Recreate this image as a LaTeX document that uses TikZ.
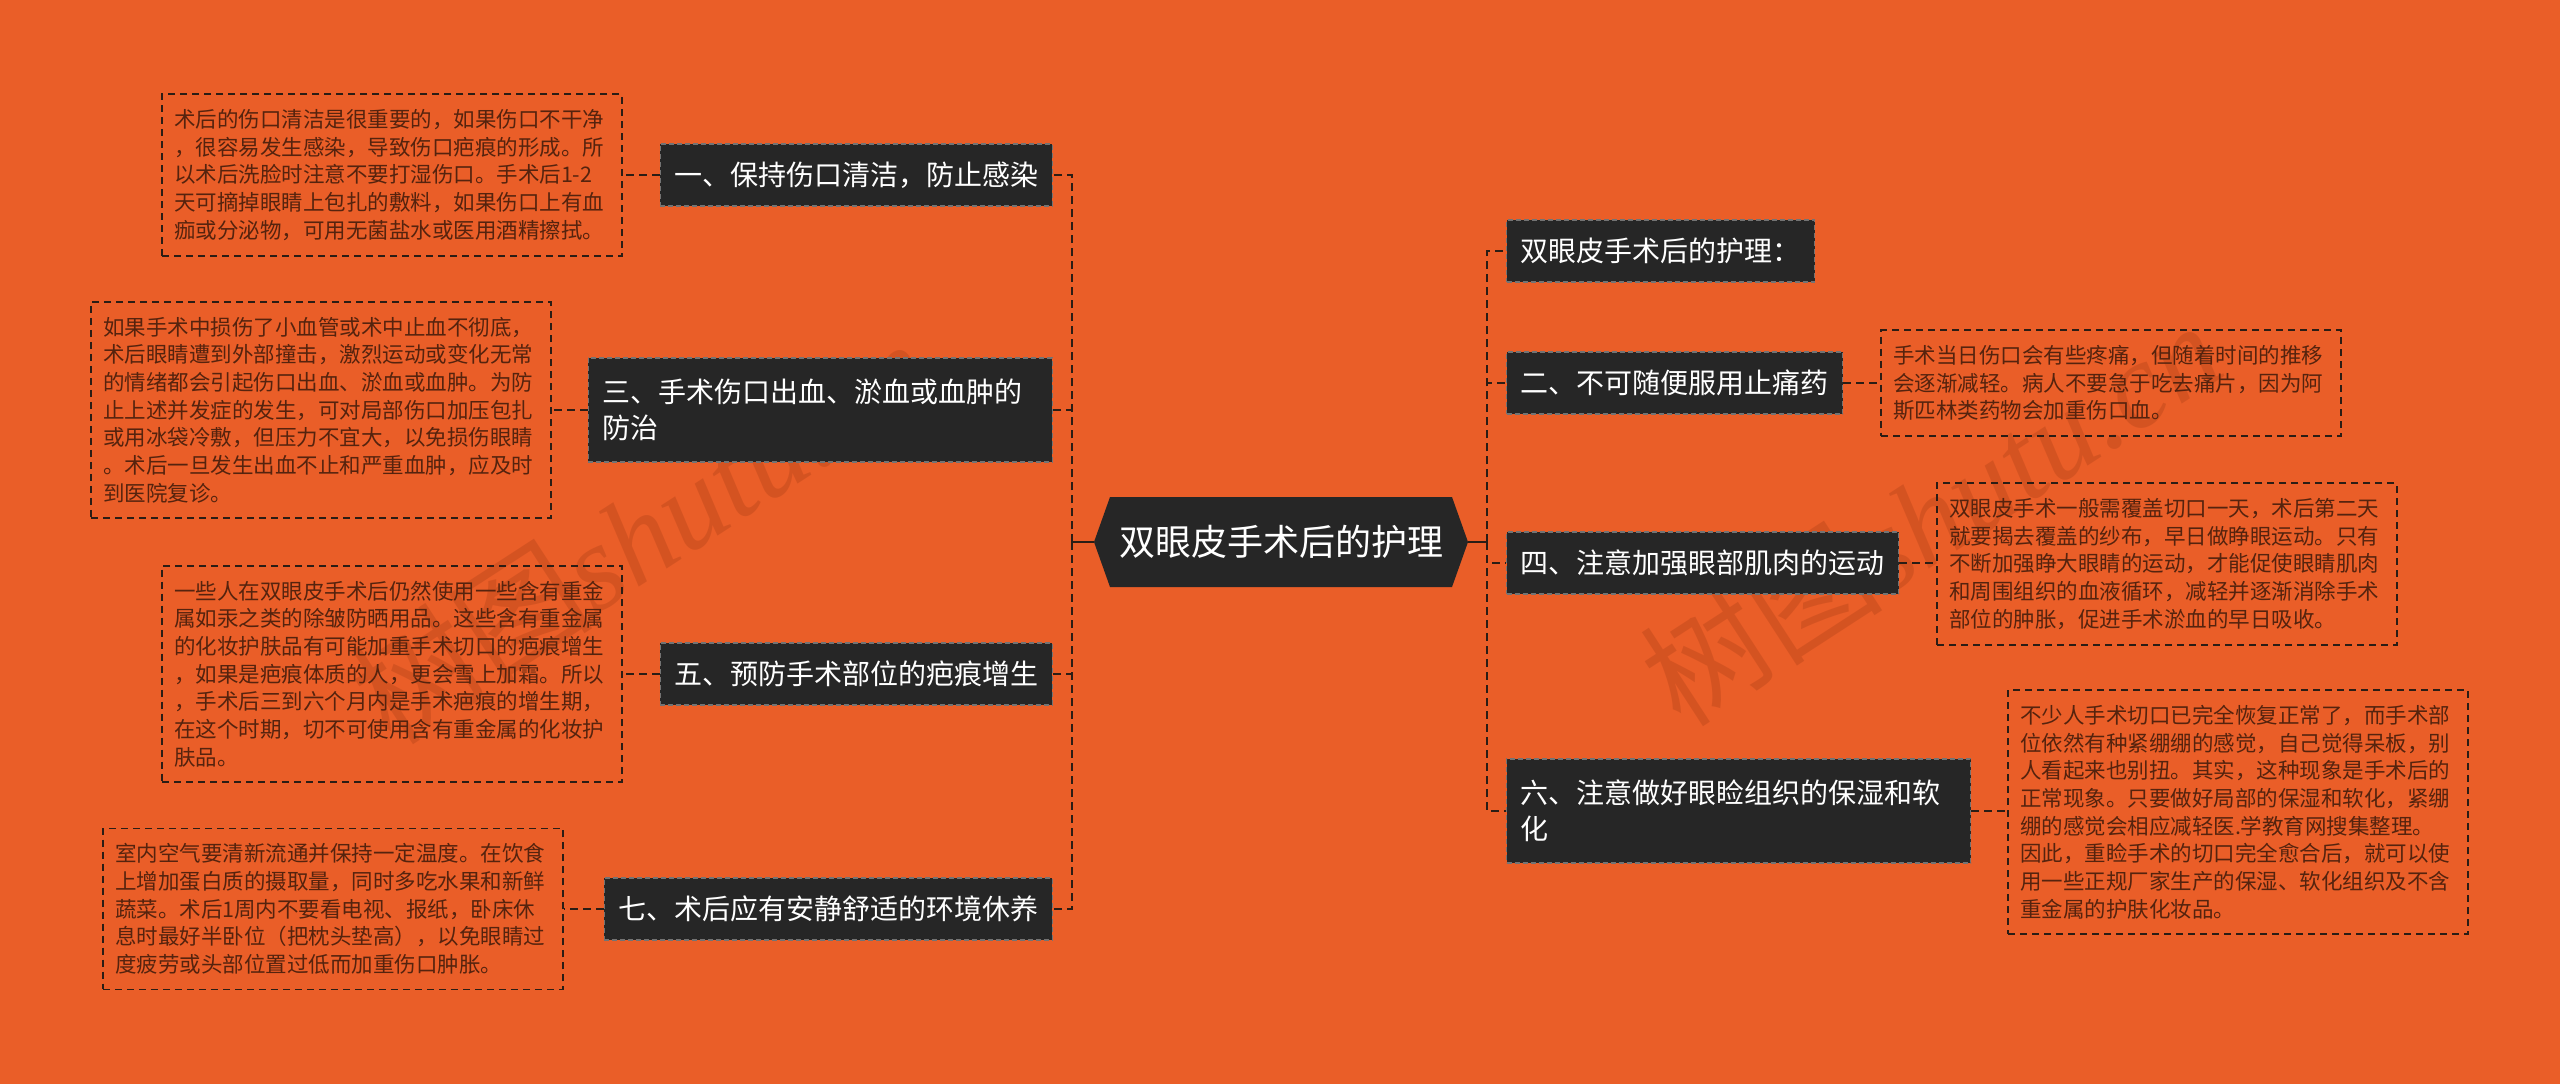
\documentclass[tikz,border=0pt]{standalone}
\usepackage{fontspec}
\setmainfont{Noto Sans CJK SC}
\newfontfamily\wmlatin{Liberation Serif}
\usetikzlibrary{calc}
\definecolor{bgorange}{HTML}{EA5E28}
\definecolor{boxdark}{HTML}{262626}
\definecolor{linedark}{HTML}{2B1D15}
\definecolor{bodytext}{HTML}{55230E}
\definecolor{wmcol}{HTML}{8A2E0C}
\tikzset{
  topic/.style={fill=boxdark, draw=black!55, dashed, line width=1.2pt,
    dash pattern=on 5pt off 3pt, text=white,
    font=\fontsize{28}{36}\selectfont, inner xsep=14pt, inner ysep=4pt,
    align=left, minimum height=62pt},
  topictwo/.style={topic, text width=436pt, minimum height=104pt},
  detail/.style={draw=linedark, line width=1.8pt, dash pattern=on 7pt off 5pt,
    text=bodytext, font=\fontsize{21.5}{27.7}\selectfont,
    text width=436pt, align=left, inner xsep=12pt, inner ysep=15pt},
  conn/.style={draw=linedark, line width=2.4pt, dash pattern=on 8pt off 5pt},
  stub/.style={draw=linedark, line width=2.6pt},
  wm/.style={rotate=33, text=wmcol, text opacity=0.22, font=\fontsize{122}{122}\selectfont}
}
\begin{document}
\begin{tikzpicture}[x=1pt,y=-1pt]
\useasboundingbox (0,0) rectangle (2560,1084);
\fill[bgorange] (0,0) rectangle (2560,1084);

% watermarks
\node[wm] (wm1) at (640,531) {树图{\wmlatin\itshape shutu.cn}};
\node[wm] (wm2) at (1930,513) {树图{\wmlatin\itshape shutu.cn}};

% root
\coordinate (rootW) at (1094,542);
\coordinate (rootE) at (1468,542);
\fill[boxdark] (1094,542) -- (1110,497) -- (1452,497) -- (1468,542) -- (1452,587) -- (1110,587) -- cycle;
\node[text=white, font=\fontsize{36}{40}\selectfont] (root) at (1281,542) {双眼皮手术后的护理};

% left topics
\node[topic, anchor=east] (t1) at (1053,175) {一、保持伤口清洁，防止感染};
\node[topictwo, anchor=east] (t3) at (1053,410) {三、手术伤口出血、淤血或血肿的\\防治};
\node[topic, anchor=east] (t5) at (1053,674) {五、预防手术部位的疤痕增生};
\node[topic, anchor=east] (t7) at (1053,909) {七、术后应有安静舒适的环境休养};

% right topics
\node[topic, anchor=west] (t0) at (1506,251) {双眼皮手术后的护理：};
\node[topic, anchor=west] (t2) at (1506,383) {二、不可随便服用止痛药};
\node[topic, anchor=west] (t4) at (1506,563) {四、注意加强眼部肌肉的运动};
\node[topictwo, anchor=west] (t6) at (1506,811) {六、注意做好眼睑组织的保湿和软\\化};

% details
\node[detail] (d1) at (392,175) {术后的伤口清洁是很重要的，如果伤口不干净\\，很容易发生感染，导致伤口疤痕的形成。所\\以术后洗脸时注意不要打湿伤口。手术后1-2\\天可摘掉眼睛上包扎的敷料，如果伤口上有血\\痂或分泌物，可用无菌盐水或医用酒精擦拭。};
\node[detail] (d3) at (321,410) {如果手术中损伤了小血管或术中止血不彻底，\\术后眼睛遭到外部撞击，激烈运动或变化无常\\的情绪都会引起伤口出血、淤血或血肿。为防\\止上述并发症的发生，可对局部伤口加压包扎\\或用冰袋冷敷，但压力不宜大，以免损伤眼睛\\。术后一旦发生出血不止和严重血肿，应及时\\到医院复诊。};
\node[detail] (d5) at (392,674) {一些人在双眼皮手术后仍然使用一些含有重金\\属如汞之类的除皱防晒用品。这些含有重金属\\的化妆护肤品有可能加重手术切口的疤痕增生\\，如果是疤痕体质的人，更会雪上加霜。所以\\，手术后三到六个月内是手术疤痕的增生期，\\在这个时期，切不可使用含有重金属的化妆护\\肤品。};
\node[detail] (d7) at (333,909) {室内空气要清新流通并保持一定温度。在饮食\\上增加蛋白质的摄取量，同时多吃水果和新鲜\\蔬菜。术后1周内不要看电视、报纸，卧床休\\息时最好半卧位（把枕头垫高），以免眼睛过\\度疲劳或头部位置过低而加重伤口肿胀。};
\node[detail] (d2) at (2111,383) {手术当日伤口会有些疼痛，但随着时间的推移\\会逐渐减轻。病人不要急于吃去痛片，因为阿\\斯匹林类药物会加重伤口血。};
\node[detail] (d4) at (2167,564) {双眼皮手术一般需覆盖切口一天，术后第二天\\就要揭去覆盖的纱布，早日做睁眼运动。只有\\不断加强睁大眼睛的运动，才能促使眼睛肌肉\\和周围组织的血液循环，减轻并逐渐消除手术\\部位的肿胀，促进手术淤血的早日吸收。};
\node[detail] (d6) at (2238,812) {不少人手术切口已完全恢复正常了，而手术部\\位依然有种紧绷绷的感觉，自己觉得呆板，别\\人看起来也别扭。其实，这种现象是手术后的\\正常现象。只要做好局部的保湿和软化，紧绷\\绷的感觉会相应减轻医.学教育网搜集整理。\\因此，重睑手术的切口完全愈合后，就可以使\\用一些正规厂家生产的保湿、软化组织及不含\\重金属的护肤化妆品。};

% trunks
\coordinate (LT) at (1072,542);
\coordinate (RT) at (1487,542);
\draw[stub] (rootW) -- (LT);
\draw[stub] (rootE) -- (RT);
\foreach \t in {t1,t3,t5,t7} \draw[conn] (LT) |- (\t.east);
\foreach \t in {t0,t2,t4,t6} \draw[conn] (RT) |- (\t.west);

% topic to detail
\foreach \a/\b in {t1/d1,t3/d3,t5/d5,t7/d7} \draw[conn] (\a.west) -- (\a.west -| \b.east);
\foreach \a/\b in {t2/d2,t4/d4,t6/d6} \draw[conn] (\a.east) -- (\a.east -| \b.west);
\end{tikzpicture}
\end{document}
